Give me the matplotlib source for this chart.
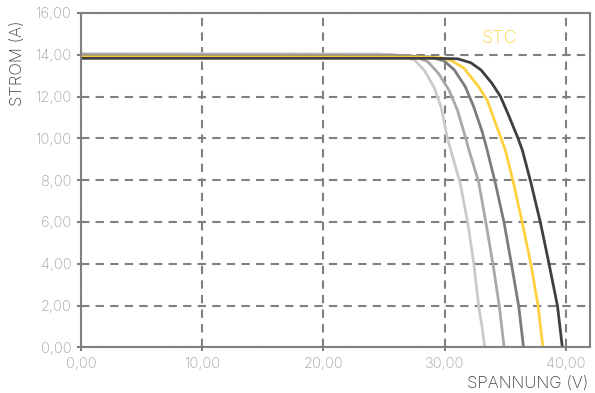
import matplotlib.pyplot as plt
from matplotlib.ticker import FuncFormatter

# I-V curves (volts, amps)
v1 = [0, 24.5, 26.4, 27.5, 28.3, 29.1, 29.7, 30.2, 30.5, 31.3, 31.9, 32.4, 32.8, 33.1, 33.3]
i1 = [14.06, 14.04, 13.97, 13.75, 13.27, 12.47, 11.5, 10.07, 9.44, 7.8, 5.95, 4.0, 1.98, 0.9, 0.0]

v2 = [0, 25.5, 27.4, 28.6, 29.5, 30.35, 31.05, 31.7, 32.0, 32.8, 33.4, 34.0, 34.5, 34.9]
i2 = [14.0, 13.99, 13.94, 13.67, 13.1, 12.31, 11.35, 10.07, 9.44, 7.9, 5.95, 3.9, 1.98, 0.0]

v3 = [0, 26.5, 28.8, 29.95, 30.8, 31.7, 32.4, 33.1, 33.5, 34.2, 34.9, 35.5, 36.1, 36.5]
i3 = [13.95, 13.94, 13.9, 13.71, 13.27, 12.47, 11.5, 10.3, 9.44, 7.8, 5.95, 4.0, 1.98, 0.0]

v_stc = [0, 28.0, 29.7, 30.6, 31.6, 32.8, 33.5, 34.2, 35.0, 35.7, 36.4, 37.1, 37.7, 38.1]
i_stc = [13.9, 13.89, 13.86, 13.71, 13.35, 12.47, 11.83, 10.71, 9.44, 7.8, 5.95, 4.0, 1.98, 0.0]

v5 = [0, 29.0, 31.05, 32.15, 33.0, 33.9, 34.6, 35.2, 36.0, 36.4, 37.1, 37.9, 38.6, 39.3, 39.7]
i5 = [13.83, 13.83, 13.81, 13.62, 13.27, 12.63, 12.0, 11.2, 10.07, 9.44, 7.9, 5.95, 4.0, 1.98, 0.0]

xticks = [0, 10, 20, 30, 40]
yticks = [0, 2, 4, 6, 8, 10, 12, 14, 16]

plt.rcParams['font.family'] = ['Inter', 'DejaVu Sans']

fig = plt.figure(figsize=(5.95, 3.93), dpi=100)
ax = fig.add_axes([0.136, 0.116, 0.856, 0.851])

gray = '#808080'
ax.grid(True, color=gray, linestyle=(0, (4, 3)), linewidth=1.5)
ax.set_axisbelow(True)

ax.plot(v1, i1, color='#cacaca', lw=2)
ax.plot(v2, i2, color='#a9a9a9', lw=2)
ax.plot(v3, i3, color='#7c7c7c', lw=2)
ax.plot(v_stc, i_stc, color='#fdd23e', lw=2)
ax.plot(v5, i5, color='#3f3f3f', lw=2)

ax.text(34.5, 14.8, 'STC', color='#fdd23e', fontsize=13, ha='center', va='center', fontweight='light')

ax.set_xlim(0, 42)
ax.set_ylim(0, 16)
ax.set_xticks(xticks)
ax.set_yticks(yticks)
fmt = FuncFormatter(lambda v, p: ('%.2f' % v).replace('.', ','))
ax.xaxis.set_major_formatter(fmt)
ax.yaxis.set_major_formatter(fmt)
ax.tick_params(colors=gray, labelcolor='#a0a0a0', labelsize=10.5, length=3, width=1.5, pad=4)
for lab in ax.get_xticklabels() + ax.get_yticklabels():
    lab.set_fontweight('light')

for s in ax.spines.values():
    s.set_color(gray)
    s.set_linewidth(1.5)

fig.text(18 / 595, 1 - 63 / 393, 'STROM (A)', rotation=90, ha='center', va='center',
         fontsize=12, color='#404040', fontweight='light')
fig.text(588 / 595, 1 - 384 / 393, 'SPANNUNG (V)', ha='right', va='center',
         fontsize=12, color='#404040', fontweight='light')

fig.savefig('out.png', dpi=100)
